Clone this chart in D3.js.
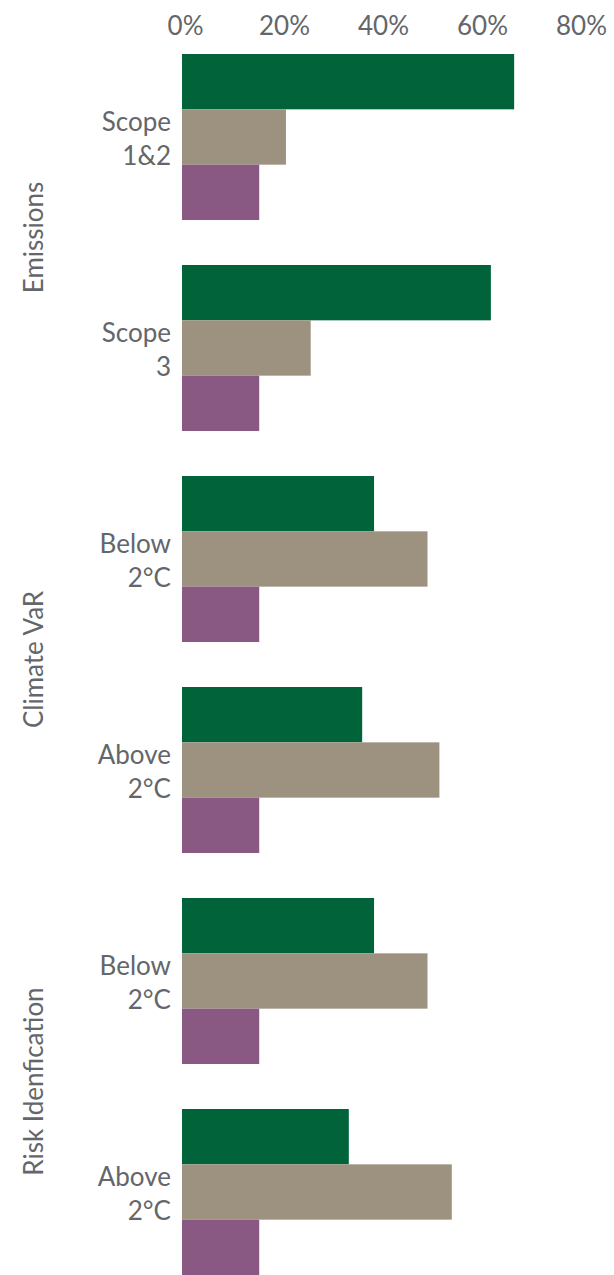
<!DOCTYPE html>
<html>
<head>
<meta charset="utf-8">
<script src="https://cdn.jsdelivr.net/npm/d3@7"></script>
<style>
  html, body { margin: 0; padding: 0; background: #ffffff; }
  svg { display: block; }
  text { font-family: Lato, "Open Sans", sans-serif; fill: #63666a; }
</style>
</head>
<body>
<svg id="chart" width="614" height="1275"></svg>
<script>
// Row categories (two-line labels) and the group each belongs to
const categories = ["Scope|1&2", "Scope|3", "Below|2°C", "Above|2°C", "Below|2°C", "Above|2°C"];
const groups = ["Emissions", "Emissions", "Climate VaR", "Climate VaR", "Risk Idenfication", "Risk Idenfication"];
const groupNames = ["Emissions", "Climate VaR", "Risk Idenfication"];

// Share values (%) for the three series, one per category
const seriesGreen  = [67.1, 62.4, 38.8, 36.4, 38.8, 33.7];
const seriesTan    = [21.0, 26.0, 49.6, 52.0, 49.6, 54.5];
const seriesPurple = [15.6, 15.6, 15.6, 15.6, 15.6, 15.6];

const seriesNames = ["green", "tan", "purple"];
const seriesValues = [seriesGreen, seriesTan, seriesPurple];
const seriesColors = ["#00633a", "#9d9280", "#8a5983"];

const tickValues = [0, 20, 40, 60, 80];

const svg = d3.select("#chart");

const x = d3.scaleLinear().domain([0, 80]).range([182, 578]);

const y = d3.scaleBand()
  .domain(d3.range(categories.length))
  .range([54, 1275])
  .paddingInner(45 / 211)
  .paddingOuter(0);

const ySeries = d3.scaleBand()
  .domain(seriesNames)
  .range([0, y.bandwidth()])
  .padding(0);

const color = d3.scaleOrdinal().domain(seriesNames).range(seriesColors);

// Bars
const rows = svg.append("g")
  .selectAll("g")
  .data(categories.map((c, i) => i))
  .join("g")
  .attr("transform", i => `translate(0,${y(i)})`);

rows.selectAll("rect")
  .data(i => seriesNames.map((s, k) => ({ series: s, value: seriesValues[k][i] })))
  .join("rect")
  .attr("x", x(0))
  .attr("y", d => ySeries(d.series))
  .attr("width", d => x(d.value) - x(0))
  .attr("height", ySeries.bandwidth())
  .attr("fill", d => color(d.series));

// Top axis with percentage labels
const xAxis = d3.axisTop(x)
  .tickValues(tickValues)
  .tickFormat(d => d + "%")
  .tickSize(0)
  .tickPadding(0);

const axisG = svg.append("g")
  .attr("transform", "translate(3,35)")
  .call(xAxis);
axisG.select(".domain").remove();
axisG.selectAll("text")
  .attr("dy", 0)
  .attr("y", 0)
  .style("font-size", "26px")
  .style("font-family", "Lato, 'Open Sans', sans-serif")
  .attr("fill", "#63666a");

// Category labels (two lines, right-aligned beside the bars)
const catLabels = svg.append("g")
  .selectAll("text")
  .data(categories.map((c, i) => ({ lines: c.split("|"), i })))
  .join("text")
  .attr("text-anchor", "end")
  .style("font-size", "26px")
  .attr("y", d => y(d.i) + y.bandwidth() / 2 - 6);

catLabels.selectAll("tspan")
  .data(d => d.lines)
  .join("tspan")
  .attr("x", 171)
  .attr("dy", (d, k) => k === 0 ? 0 : 34)
  .text(d => d);

// Group labels, rotated along the left edge
svg.append("g")
  .selectAll("text")
  .data(groupNames)
  .join("text")
  .attr("text-anchor", "middle")
  .style("font-size", "26px")
  .attr("transform", g => {
    const idx = groups.map((v, i) => v === g ? i : -1).filter(i => i >= 0);
    const top = y(idx[0]);
    const bottom = y(idx[idx.length - 1]) + y.bandwidth();
    const cy = (top + bottom) / 2 - 5;
    return `translate(43,${cy}) rotate(-90)`;
  })
  .text(g => g);
</script>
</body>
</html>
